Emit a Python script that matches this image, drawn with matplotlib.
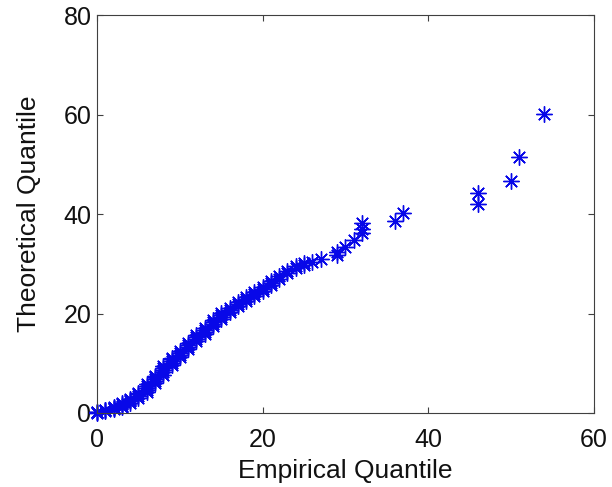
"""Q-Q plot of empirical vs theoretical quantiles
"""
import matplotlib
matplotlib.use('Agg')
import matplotlib.pyplot as plt

plt.rcParams['font.family'] = ['Liberation Sans', 'DejaVu Sans']

# sorted empirical sample (integer valued) and matching theoretical quantiles
empirical = [
    0, 0, 0, 1, 1, 1, 2, 2, 2, 2, 3, 3, 3, 3, 4, 4, 4, 4,
    5, 5, 5, 5, 6, 6, 6, 6, 6, 7, 7, 7, 7, 7, 8, 8, 8, 8, 8,
    9, 9, 9, 9, 9, 10, 10, 10, 10, 11, 11, 11, 11, 12, 12, 12, 12,
    13, 13, 13, 13, 14, 14, 14, 14, 15, 15, 15, 15, 16, 16, 16,
    17, 17, 17, 18, 18, 18, 19, 19, 19, 20, 20, 20, 21, 21, 21,
    22, 22, 23, 23, 24, 24, 25, 25, 26, 27, 29, 29, 30, 31,
    32, 32, 32, 36, 37, 46, 46, 50, 51, 54,
]
theoretical = [
    0.0, 0.1, 0.2, 0.3, 0.5, 0.6, 0.7, 0.9, 1.1, 1.2, 1.3, 1.5, 1.8, 2.0,
    2.1, 2.4, 2.7, 2.9,
    3.0, 3.4, 3.8, 4.1, 4.3, 4.7, 5.1, 5.5, 5.8, 6.0, 6.4, 6.8, 7.2, 7.5,
    7.7, 8.2, 8.7, 9.1, 9.4,
    9.6, 10.0, 10.4, 10.8, 11.1, 11.3, 11.7, 12.1, 12.5, 12.9, 13.3, 13.7, 14.1,
    14.4, 14.8, 15.2, 15.6,
    15.9, 16.3, 16.7, 17.1, 17.4, 17.8, 18.2, 18.6, 18.9, 19.3, 19.7, 20.1,
    20.4, 20.8, 21.2,
    21.5, 21.9, 22.3, 22.6, 23.0, 23.3, 23.5, 23.9, 24.3, 24.6, 25.0, 25.4,
    25.8, 26.2, 26.6,
    27.0, 27.5, 28.1, 28.6, 29.1, 29.5, 29.8, 30.1, 30.4, 31.0, 31.8, 32.4, 33.4, 34.8,
    36.1, 37.0, 38.1, 38.7, 40.3, 42.0, 44.2, 46.6, 51.4, 60.2,
]
x_ticks = [0, 20, 40, 60]
y_ticks = [0, 20, 40, 60, 80]

fig = plt.figure(figsize=(6.12, 4.87), dpi=100)
ax = fig.add_axes([0.1585, 0.152, 0.812, 0.817])

# matlab style asterisk: 8 spokes
ax.plot(empirical, theoretical, linestyle='none', marker=(8, 2, 0),
        markersize=11.5, markeredgewidth=1.0, color='#0000ff',
        markeredgecolor='#0808e8', clip_on=False)

ax.set_xlim(0, 60)
ax.set_ylim(0, 80)
ax.set_xticks(x_ticks)
ax.set_yticks(y_ticks)
ax.tick_params(direction='in', length=4, width=0.8, labelsize=18,
               top=True, right=True, colors='#404040', labelcolor='#111111',
               pad=4)
ax.tick_params(axis='x', pad=11)
for sp in ax.spines.values():
    sp.set_color('#404040')
    sp.set_linewidth(0.8)

ax.set_xlabel('Empirical Quantile', fontsize=19, labelpad=5, color='#111111')
ax.set_ylabel('Theoretical Quantile', fontsize=19, labelpad=16, color='#111111')

plt.savefig('out.png', dpi=100)
